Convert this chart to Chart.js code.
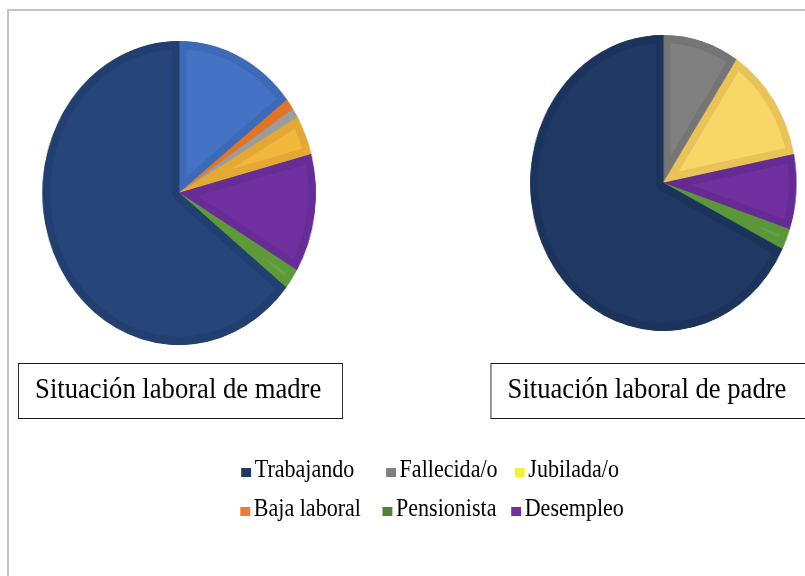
<!DOCTYPE html>
<html>
<head>
<meta charset="utf-8">
<script src="https://cdn.jsdelivr.net/npm/chart.js@4.4.1/dist/chart.umd.min.js"></script>
<style>
  html, body { margin: 0; padding: 0; background: #fff; width: 805px; height: 576px; overflow: hidden; }
  #frameTop { position: absolute; left: 7px; top: 9px; width: 798px; height: 2px; background: #c4c4c4; }
  #frameLeft { position: absolute; left: 7px; top: 9px; width: 2px; height: 567px; background: #c4c4c4; }
  #wrap { position: absolute; left: 0; top: 0; width: 894px; height: 576px; transform: scaleX(0.9); transform-origin: 0 0; }
  canvas { position: absolute; }
  .box { position: absolute; border: 1.6px solid #1a1a1a; box-sizing: border-box; height: 56px; top: 363px; }
  .boxText { position: absolute; font-family: "Liberation Serif", "Times New Roman", serif; font-size: 29.6px; line-height: 29.6px; color: #000; white-space: nowrap; top: 373.5px; }
  .leg { position: absolute; font-family: "Liberation Serif", "Times New Roman", serif; font-size: 24.5px; line-height: 24.5px; color: #000; white-space: nowrap; }
  .sq { display: inline-block; width: 11px; height: 9px; margin-right: 4px; vertical-align: baseline; }
</style>
</head>
<body>
<div id="frameTop"></div>
<div id="frameLeft"></div>
<div id="wrap">
  <canvas id="madre" width="330" height="330" style="left:34px; top:28px;"></canvas>
  <canvas id="padre" width="330" height="330" style="left:572px; top:18px;"></canvas>
  <div class="box" style="left:20px; width:361px;"></div>
  <div class="boxText" style="left:39px;">Situación laboral de madre</div>
  <div class="box" style="left:545px; width:380px;"></div>
  <div class="boxText" style="left:564px;">Situación laboral de padre</div>
  <div id="legend"></div>
</div>
<script>
// ---- Data (clockwise from 12 o'clock) ----
const madreLabels = ['', 'Baja laboral', 'Fallecida/o', 'Jubilada/o', 'Desempleo', 'Pensionista', 'Trabajando'];
const madreValues = [14.5, 1.2, 1.0, 4.2, 12.6, 2.2, 64.3];

const padreLabels = ['Fallecida/o', 'Jubilada/o', 'Desempleo', 'Pensionista', 'Trabajando'];
const padreValues = [9.3, 12.6, 8.2, 2.3, 67.6];

const legendLabels = ['Trabajando', 'Fallecida/o', 'Jubilada/o', 'Baja laboral', 'Pensionista', 'Desempleo'];

// ---- Styles ----
const madreFill   = ['#4472C4', '#ED7D31', '#A5A5A5', '#F2B83E', '#7030A0', '#67A83F', '#26457A'];
const madreBorder = ['#3D69B6', '#E07528', '#9C9C9C', '#E4A835', '#682C96', '#5E9A3A', '#223F6F'];
const padreFill   = ['#808080', '#F9D766', '#7030A0', '#62A23E', '#1F3864'];
const padreBorder = ['#757575', '#E8C35A', '#652B92', '#5A963A', '#1C335C'];
const legendColors = ['#203864', '#7F7F7F', '#F7EE3A', '#ED7D31', '#548235', '#7030A0'];
const legendPos = [[268, 456.5], [429, 456.5], [572, 456.5], [267, 496.2], [425, 496.2], [568, 496.2]];

function makePie(id, labels, values, fill, border, radius) {
  new Chart(document.getElementById(id), {
    type: 'pie',
    data: {
      labels: labels,
      datasets: [{
        data: values,
        backgroundColor: fill,
        borderColor: border,
        borderWidth: 8,
        borderAlign: 'inner',
        hoverOffset: 0
      }]
    },
    options: {
      responsive: false,
      maintainAspectRatio: false,
      animation: false,
      radius: radius,
      layout: { padding: 0 },
      plugins: { legend: { display: false }, tooltip: { enabled: false }, title: { display: false } }
    }
  });
}

makePie('madre', madreLabels, madreValues, madreFill, madreBorder, 152);
makePie('padre', padreLabels, padreValues, padreFill, padreBorder, 148);

const legend = document.getElementById('legend');
legendLabels.forEach((lab, i) => {
  const d = document.createElement('div');
  d.className = 'leg';
  d.style.left = legendPos[i][0] + 'px';
  d.style.top = legendPos[i][1] + 'px';
  const s = document.createElement('span');
  s.className = 'sq';
  s.style.background = legendColors[i];
  d.appendChild(s);
  d.appendChild(document.createTextNode(lab));
  legend.appendChild(d);
});
</script>
</body>
</html>
